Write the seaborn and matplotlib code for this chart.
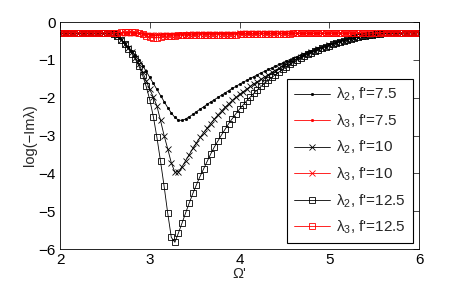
import numpy as np
import pandas as pd
import matplotlib
matplotlib.use("Agg")
import matplotlib.pyplot as plt
import seaborn as sns

# Style and font (set family after the theme)
sns.set_theme(style="white")
plt.rcParams['font.family'] = ['Liberation Sans', 'DejaVu Sans']
plt.rcParams['mathtext.fontset'] = 'custom'
plt.rcParams['mathtext.rm'] = 'Liberation Sans'
plt.rcParams['mathtext.it'] = 'Liberation Sans:italic'
plt.rcParams['axes.unicode_minus'] = True

# Frequency grid
omega = [
    2.00, 2.04, 2.08, 2.12, 2.16, 2.20, 2.24, 2.28, 2.32, 2.36,
    2.40, 2.44, 2.48, 2.52, 2.56, 2.60, 2.64, 2.68, 2.72, 2.76,
    2.80, 2.84, 2.88, 2.92, 2.96, 3.00, 3.04, 3.08, 3.12, 3.16,
    3.20, 3.24, 3.28, 3.32, 3.36, 3.40, 3.44, 3.48, 3.52, 3.56,
    3.60, 3.64, 3.68, 3.72, 3.76, 3.80, 3.84, 3.88, 3.92, 3.96,
    4.00, 4.04, 4.08, 4.12, 4.16, 4.20, 4.24, 4.28, 4.32, 4.36,
    4.40, 4.44, 4.48, 4.52, 4.56, 4.60, 4.64, 4.68, 4.72, 4.76,
    4.80, 4.84, 4.88, 4.92, 4.96, 5.00, 5.04, 5.08, 5.12, 5.16,
    5.20, 5.24, 5.28, 5.32, 5.36, 5.40, 5.44, 5.48, 5.52, 5.56,
    5.60, 5.64, 5.68, 5.72, 5.76, 5.80, 5.84, 5.88, 5.92, 5.96,
    6.00,
]

# common left / right parts of the lambda_2 curves
lam2_left = [-0.30] * 15
lam2_tail = [-0.31, -0.30, -0.30, -0.29, -0.29, -0.29,
             -0.29, -0.28, -0.28, -0.28, -0.28, -0.28]

lam2_f75 = lam2_left + [
    -0.31, -0.36, -0.45, -0.55, -0.65, -0.76, -0.88, -1.01, -1.15, -1.30,
    -1.46, -1.62, -1.78, -1.94, -2.10, -2.26, -2.40, -2.52, -2.59, -2.60,
    -2.56, -2.50, -2.44, -2.37, -2.30, -2.24, -2.17, -2.11, -2.05, -1.99,
    -1.93, -1.87, -1.81, -1.75, -1.70, -1.64, -1.59, -1.54, -1.49, -1.44,
    -1.39, -1.34, -1.30, -1.25, -1.21, -1.16, -1.12, -1.08, -1.03, -0.99,
    -0.95, -0.91, -0.87, -0.83, -0.79, -0.76, -0.72, -0.69, -0.65, -0.62,
    -0.59, -0.56, -0.53, -0.50, -0.48, -0.45, -0.43, -0.41, -0.39, -0.37,
    -0.36, -0.34, -0.33, -0.32,
] + lam2_tail

lam2_f10 = lam2_left + [
    -0.31, -0.37, -0.46, -0.57, -0.68, -0.80, -0.95, -1.12, -1.32, -1.55,
    -1.78, -1.98, -2.22, -2.60, -3.00, -3.35, -3.72, -3.97, -3.95, -3.82,
    -3.66, -3.50, -3.34, -3.19, -3.05, -2.92, -2.80, -2.68, -2.56, -2.45,
    -2.35, -2.25, -2.16, -2.07, -1.99, -1.91, -1.84, -1.77, -1.70, -1.63,
    -1.57, -1.51, -1.45, -1.39, -1.33, -1.28, -1.22, -1.17, -1.12, -1.07,
    -1.02, -0.97, -0.92, -0.88, -0.84, -0.80, -0.76, -0.72, -0.68, -0.65,
    -0.61, -0.58, -0.55, -0.52, -0.49, -0.46, -0.44, -0.42, -0.40, -0.38,
    -0.36, -0.35, -0.33, -0.32,
] + lam2_tail

lam2_f125 = lam2_left + [
    -0.31, -0.37, -0.47, -0.58, -0.70, -0.83, -0.98, -1.17, -1.40, -1.70,
    -2.05, -2.50, -3.05, -3.68, -4.34, -5.05, -5.69, -5.82, -5.57, -5.31,
    -5.04, -4.78, -4.53, -4.30, -4.08, -3.88, -3.68, -3.48, -3.30, -3.14,
    -2.98, -2.83, -2.68, -2.55, -2.42, -2.30, -2.19, -2.08, -1.98, -1.88,
    -1.79, -1.70, -1.62, -1.54, -1.46, -1.39, -1.32, -1.25, -1.18, -1.12,
    -1.06, -1.00, -0.95, -0.90, -0.85, -0.81, -0.77, -0.73, -0.69, -0.65,
    -0.62, -0.58, -0.55, -0.52, -0.49, -0.47, -0.44, -0.42, -0.40, -0.38,
    -0.36, -0.35, -0.33, -0.32,
] + lam2_tail

lam3_f75 = ([-0.29] * 20
            + [-0.29, -0.29, -0.30, -0.30, -0.31, -0.31, -0.32, -0.32, -0.32, -0.32]
            + [-0.32, -0.32, -0.32, -0.31, -0.31, -0.31, -0.31, -0.31, -0.30, -0.30]
            + [-0.30] * 15 + [-0.29] * 30 + [-0.28] * 16)

lam3_f10 = ([-0.29] * 17 + [-0.28] * 3
            + [-0.28, -0.29, -0.30, -0.32, -0.33, -0.34, -0.35, -0.35, -0.35, -0.34]
            + [-0.34, -0.34, -0.33, -0.33, -0.33, -0.33, -0.32, -0.32, -0.32, -0.32]
            + [-0.31] * 10 + [-0.30] * 15 + [-0.29] * 20 + [-0.28] * 16)

lam3_f125 = ([-0.29] * 16 + [-0.28, -0.27, -0.27, -0.26]
             + [-0.26, -0.27, -0.29, -0.32, -0.36, -0.39, -0.41, -0.41, -0.40, -0.38]
             + [-0.37, -0.36, -0.36, -0.35, -0.35, -0.35, -0.34, -0.34, -0.34, -0.34]
             + [-0.33] * 10 + [-0.32] * 5 + [-0.31] * 10 + [-0.30] * 10
             + [-0.29] * 15 + [-0.28] * 11)

labels = ["λ$_2$, f'=7.5", "λ$_3$, f'=7.5", "λ$_2$, f'=10",
          "λ$_3$, f'=10", "λ$_2$, f'=12.5", "λ$_3$, f'=12.5"]
curves = [lam2_f75, lam3_f75, lam2_f10, lam3_f10, lam2_f125, lam3_f125]
colors = ["black", "red", "black", "red", "black", "red"]
markers = [".", ".", "x", "x", "s", "s"]
msizes = [3.2, 3.2, 4.2, 4.2, 4.5, 4.5]

fig, ax = plt.subplots(figsize=(4.63, 2.91), dpi=100)
fig.subplots_adjust(left=0.1296, right=0.905, top=0.924, bottom=0.144)

for lab, y, c, m, ms in zip(labels, curves, colors, markers, msizes):
    sns.lineplot(x=omega, y=y, ax=ax, color=c, marker=m, markersize=ms,
                 linewidth=0.6, mec=c, mew=0.6,
                 mfc=("none" if m == "s" else c), label=lab)

ax.set_xlim(2, 6)
ax.set_ylim(-6, 0)
ax.set_xticks([2, 3, 4, 5, 6])
ax.set_yticks([-6, -5, -4, -3, -2, -1, 0])
ax.tick_params(direction="in", top=True, right=True, length=4, width=0.5,
               labelsize=11, colors="black", pad=3)
for sp in ax.spines.values():
    sp.set_color("black")
    sp.set_linewidth(0.6)

ax.set_xlabel("Ω'", fontsize=10.5, labelpad=0)
ax.set_ylabel("log(−Imλ)", fontsize=10.5, labelpad=1)

leg = ax.legend(loc="lower right", fontsize=11, frameon=True, fancybox=False,
                edgecolor="black", framealpha=1, labelspacing=0.6,
                handlelength=2.4, handletextpad=0.4, borderaxespad=0.4,
                borderpad=0.45)
leg.get_frame().set_linewidth(0.8)

plt.savefig("out.png", dpi=100)
plt.close()
